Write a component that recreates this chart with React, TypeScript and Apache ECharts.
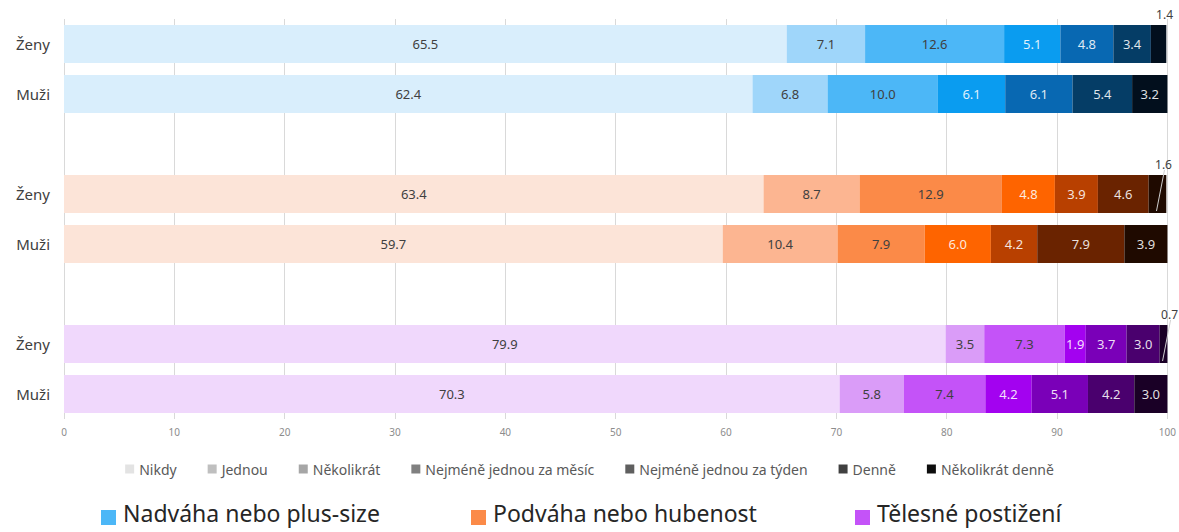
import React, { useEffect, useRef } from "react";
import * as echarts from "echarts";

const levels = [
  "Nikdy",
  "Jednou",
  "Několikrát",
  "Nejméně jednou za měsíc",
  "Nejméně jednou za týden",
  "Denně",
  "Několikrát denně",
];
const rowLabels = ["Ženy", "Muži", "", "Ženy", "Muži", "", "Ženy", "Muži"];
const xTicks = [0, 10, 20, 30, 40, 50, 60, 70, 80, 90, 100];

const groups = ["Nadváha nebo plus-size", "Podváha nebo hubenost", "Tělesné postižení"];

const nadvahaZeny = [65.5, 7.1, 12.6, 5.1, 4.8, 3.4, 1.4];
const nadvahaMuzi = [62.4, 6.8, 10.0, 6.1, 6.1, 5.4, 3.2];
const podvahaZeny = [63.4, 8.7, 12.9, 4.8, 3.9, 4.6, 1.6];
const podvahaMuzi = [59.7, 10.4, 7.9, 6.0, 4.2, 7.9, 3.9];
const postizeniZeny = [79.9, 3.5, 7.3, 1.9, 3.7, 3.0, 0.7];
const postizeniMuzi = [70.3, 5.8, 7.4, 4.2, 5.1, 4.2, 3.0];

const blues = ["#D9EEFC", "#9FD6FA", "#4CB7F7", "#0A9CF0", "#0868B2", "#053D66", "#020F1D"];
const oranges = ["#FCE4D8", "#FCB591", "#FB8A48", "#FE6400", "#B84000", "#6A2300", "#1F0A00"];
const purples = ["#F0D8FC", "#DA9CF8", "#C453F8", "#A302F0", "#7A00B8", "#4A006E", "#1A0026"];
const greys = ["#E3E3E3", "#BFBFBF", "#A6A6A6", "#808080", "#5F5F5F", "#404040", "#0D0D0D"];
const groupColors = ["#4CB7F7", "#FB8A48", "#C453F8"];

const rows = [nadvahaZeny, nadvahaMuzi, null, podvahaZeny, podvahaMuzi, null, postizeniZeny, postizeniMuzi];
const palettes = [blues, blues, null, oranges, oranges, null, purples, purples];
const leaderRows = [3, 6];

const FONT = "'Noto Sans', 'Open Sans', sans-serif";

export default function App() {
  const ref = useRef<HTMLDivElement>(null);
  useEffect(() => {
    if (!ref.current) return;
    const chart = echarts.init(ref.current, null, { renderer: "svg" });

    const series = levels.map((name, k) => ({
      name,
      type: "bar",
      stack: "total",
      barCategoryGap: "24%",
      itemStyle: { color: greys[k] },
      label: {
        show: true,
        position: "inside",
        fontSize: 13,
        fontFamily: FONT,
        color: k <= 2 ? "#404040" : "rgba(255,255,255,0.88)",
        formatter: (p: any) => Number(p.value).toFixed(1),
      },
      labelLayout:
        k === 6
          ? (params: any) => {
              const r = rowLabels[params.dataIndex];
              if (r !== "Ženy") return {};
              const rect = params.rect;
              const cx = rect.x + rect.width / 2;
              return { x: cx + 6, y: rect.y - 11, align: "center", verticalAlign: "middle" };
            }
          : undefined,
      data: rows.map((row, i) => {
        if (!row) return "-";
        const item: any = {
          value: row[k],
          itemStyle: { color: (palettes[i] as string[])[k] },
        };
        if (k === 6 && rowLabels[i] === "Ženy") {
          item.label = { color: "#404040", fontSize: 12 };
        }
        return item;
      }),
    }));

    const legendGraphics = groups.flatMap((g, i) => {
      const xs = [101, 471, 855];
      return [
        {
          type: "rect",
          left: xs[i],
          top: 510,
          shape: { width: 15, height: 15 },
          style: { fill: groupColors[i] },
        },
        {
          type: "text",
          left: xs[i] + 22,
          top: 501,
          style: { text: g, fontSize: 23, fill: "#262626", fontFamily: FONT },
        },
      ];
    });

    chart.setOption({
      animation: false,
      textStyle: { fontFamily: FONT },
      grid: { left: 64, right: 8, top: 19, height: 400, containLabel: false },
      xAxis: {
        type: "value",
        min: 0,
        max: 100,
        interval: 10,
        axisLine: { show: false },
        axisTick: { show: false },
        splitLine: { lineStyle: { color: "#D9D9D9", width: 1 } },
        axisLabel: {
          fontSize: 10,
          color: "#8C8C8C",
          margin: 8,
          formatter: (v: number) => (xTicks.includes(v) ? String(v) : ""),
        },
      },
      yAxis: {
        type: "category",
        inverse: true,
        data: rowLabels,
        axisLine: { show: false },
        axisTick: { show: false },
        axisLabel: { fontSize: 15, color: "#404040", margin: 14 },
      },
      legend: {
        data: levels.map((n, k) => ({ name: n, itemStyle: { color: greys[k] } })),
        top: 457,
        left: "center",
        icon: "rect",
        itemWidth: 9,
        itemHeight: 9,
        itemGap: 31,
        textStyle: { fontSize: 14, color: "#595959", fontFamily: FONT },
        selectedMode: false,
      },
      graphic: legendGraphics,
      series,
    });

    // leader lines for the tiny last segments, positioned through the axes' scales
    const leaderLines = leaderRows.map((ri) => {
      const row = rows[ri] as number[];
      const start = row.slice(0, 6).reduce((a, b) => a + b, 0);
      const end = start + row[6];
      const mid = chart.convertToPixel({ gridIndex: 0 }, [(start + end) / 2, ri]) as number[];
      const next = chart.convertToPixel({ gridIndex: 0 }, [0, ri + 1]) as number[];
      const band = next[1] - mid[1];
      const half = (band * 0.76) / 2;
      const topY = mid[1] - half;
      const botY = mid[1] + half;
      const lx = mid[0] + 6;
      const ly = topY - 11;
      return {
        type: "polyline",
        silent: true,
        z: 100,
        shape: {
          points: [
            [lx + 1, ly + 6],
            [mid[0] - 1, botY - 2],
          ],
        },
        style: { stroke: "#cfcfcf", lineWidth: 1, fill: null },
      };
    });
    chart.setOption({ graphic: [...legendGraphics, ...leaderLines] });

    return () => chart.dispose();
  }, []);
  return (
    <div
      ref={ref}
      style={{ position: "absolute", left: 0, top: 0, width: 1179, height: 532 }}
    />
  );
}
